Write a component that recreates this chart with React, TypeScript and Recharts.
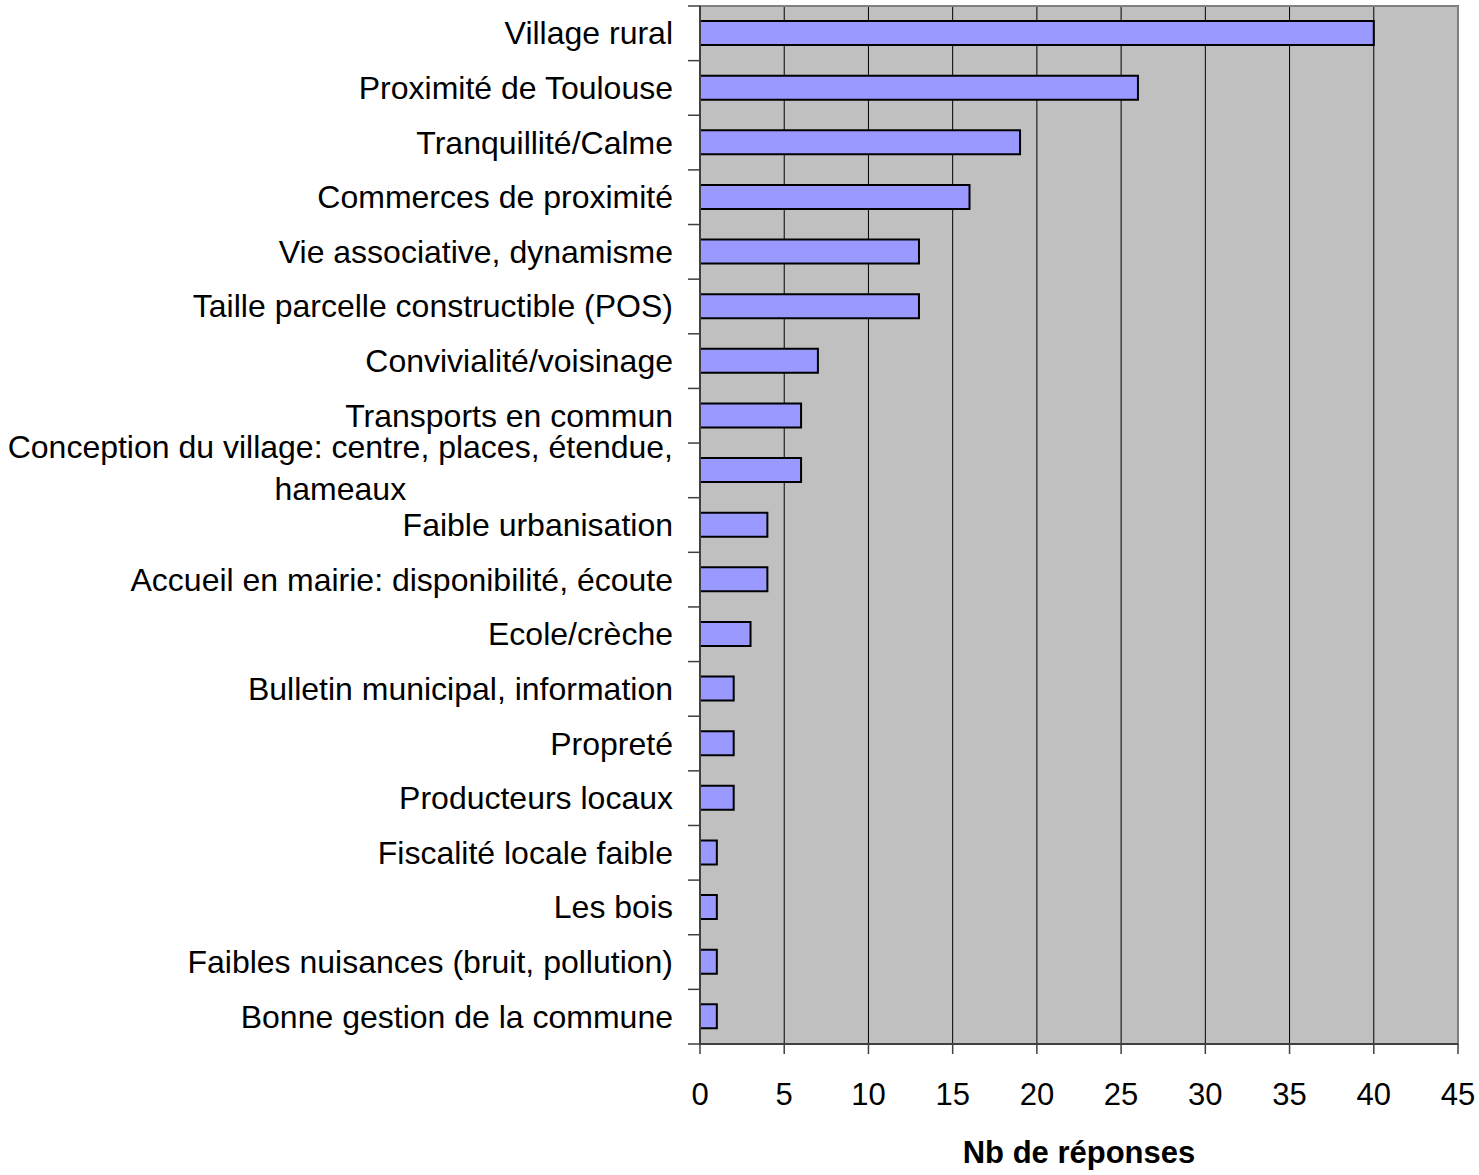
import {Bar, BarChart, CartesianGrid, ReferenceArea, XAxis, YAxis} from 'recharts'

const CATEGORIES = [
  'Village rural',
  'Proximité de Toulouse',
  'Tranquillité/Calme',
  'Commerces de proximité',
  'Vie associative, dynamisme',
  'Taille parcelle constructible (POS)',
  'Convivialité/voisinage',
  'Transports en commun',
  'Conception du village: centre, places, étendue,\nhameaux',
  'Faible urbanisation',
  'Accueil en mairie: disponibilité, écoute',
  'Ecole/crèche',
  'Bulletin municipal, information',
  'Propreté',
  'Producteurs locaux',
  'Fiscalité locale faible',
  'Les bois',
  'Faibles nuisances (bruit, pollution)',
  'Bonne gestion de la commune',
]
const RESPONSES = [40, 26, 19, 16, 13, 13, 7, 6, 6, 4, 4, 3, 2, 2, 2, 1, 1, 1, 1]
const X_TICKS = [0, 5, 10, 15, 20, 25, 30, 35, 40, 45]
const X_LABEL = 'Nb de réponses'

const FONT = '"Liberation Sans", Arial, sans-serif'
const AXIS = '#404040'
const LABEL_SIZE = 32

const data = CATEGORIES.map((name, i) => ({ name, value: RESPONSES[i] }))

let ctx: CanvasRenderingContext2D | null = null
function measure(text: string, size: number) {
  if (!ctx) ctx = document.createElement('canvas').getContext('2d')
  if (!ctx) return text.length * size * 0.5
  ctx.font = `${size}px ${FONT}`
  return ctx.measureText(text).width
}

function CategoryTick(props: any) {
  const { x, y, payload, index } = props
  const half = payload?.offset ?? 27.3
  const lines = String(payload.value).split('\n')
  const x1 = x + 15
  const x2 = x + 27
  return (
    <g>
      <line x1={x1} x2={x2} y1={y - half} y2={y - half} stroke={AXIS} strokeWidth={1.5} />
      {index === CATEGORIES.length - 1 && (
        <line x1={x1} x2={x2} y1={y + half} y2={y + half} stroke={AXIS} strokeWidth={1.5} />
      )}
      {lines.length === 1 ? (
        <text x={x} y={y + 11} textAnchor="end" fontSize={LABEL_SIZE} fontFamily={FONT} fill="#000">
          {lines[0]}
        </text>
      ) : (
        (() => {
          const cx = x - measure(lines[0], LABEL_SIZE) / 2
          return (
            <text textAnchor="middle" fontSize={LABEL_SIZE} fontFamily={FONT} fill="#000">
              <tspan x={cx} y={y - 12}>{lines[0]}</tspan>
              <tspan x={cx} y={y + 30}>{lines[1]}</tspan>
            </text>
          )
        })()
      )}
    </g>
  )
}

export default function App() {
  return (
    <div style={{ position: 'absolute', left: 0, top: 0, background: '#fff' }}>
      <BarChart
        width={1479}
        height={1175}
        data={data}
        layout="vertical"
        margin={{ top: 6, right: 21, left: 0, bottom: 0 }}
        barSize={24}
      >
        <CartesianGrid fill="#C0C0C0" horizontal={false} stroke="#000" strokeWidth={1} />
        <XAxis
          type="number"
          domain={[0, 45]}
          ticks={X_TICKS}
          interval={0}
          height={131}
          tickSize={10}
          tickMargin={29}
          axisLine={{ stroke: AXIS, strokeWidth: 2 }}
          tickLine={{ stroke: AXIS, strokeWidth: 1.5 }}
          tick={{ fontSize: 31, fontFamily: FONT, fill: '#000' }}
          label={{
            value: X_LABEL,
            position: 'insideBottom',
            offset: 12,
            style: { fontSize: 31, fontWeight: 'bold', fontFamily: FONT, fill: '#000' },
          }}
        />
        <YAxis
          type="category"
          dataKey="name"
          width={700}
          interval={0}
          tickSize={12}
          tickMargin={15}
          tickLine={false}
          axisLine={{ stroke: AXIS, strokeWidth: 2 }}
          tick={<CategoryTick />}
        />
        <ReferenceArea x1={0} x2={45} fill="none" stroke="#808080" strokeWidth={2} />
        <Bar dataKey="value" fill="#9999FF" stroke="#000" strokeWidth={2} isAnimationActive={false} />
      </BarChart>
    </div>
  )
}
